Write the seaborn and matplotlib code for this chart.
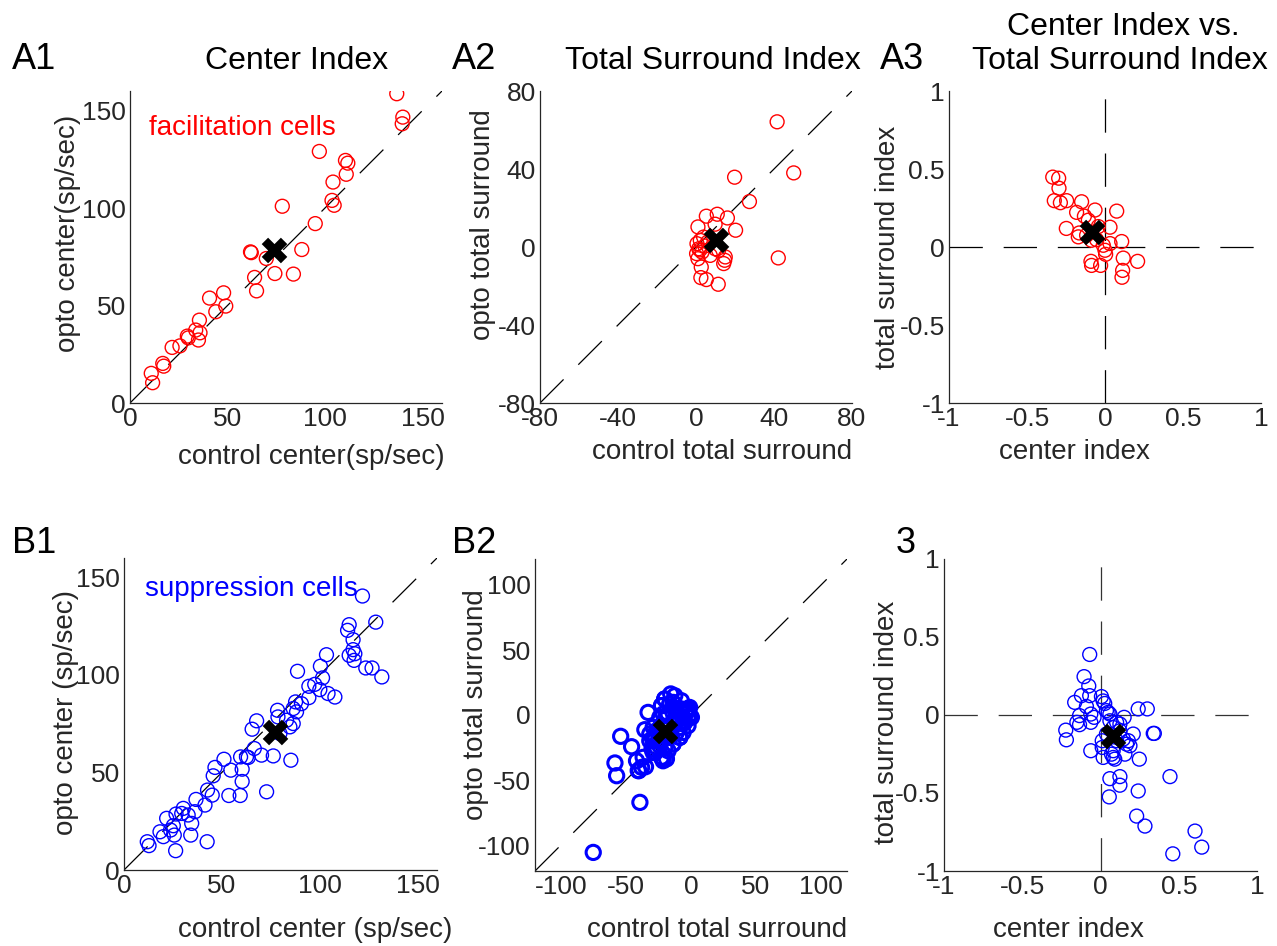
import numpy as np
import pandas as pd
import matplotlib
matplotlib.use("Agg")
import matplotlib.pyplot as plt
import seaborn as sns

# ---------------- data ----------------
# A1: center responses, facilitation cells
a1_control = [136.8, 139.9, 139.6, 97.1, 110.5, 111.7, 110.9, 104.1, 103.6, 104.7, 78.1, 95.0,
              88.1, 61.8, 62.2, 69.9, 74.3, 83.8, 63.9, 64.9, 40.8, 48.0, 49.1, 44.0, 35.6,
              33.7, 35.9, 29.4, 29.9, 35.1, 25.6, 21.6, 16.8, 17.3, 10.9, 11.6]
a1_opto = [158.6, 146.6, 143.2, 129.0, 124.4, 123.0, 117.3, 113.3, 103.9, 101.4, 100.9, 92.0,
           78.7, 77.5, 77.1, 74.1, 66.4, 66.1, 64.4, 57.5, 53.8, 56.5, 49.7, 46.8, 42.5,
           37.4, 36.0, 34.3, 33.4, 32.3, 29.3, 28.5, 20.3, 18.9, 15.2, 10.4]
a1_mean = [73.9, 78.7]

# A2: total surround, facilitation cells
a2_control = [41.6, 50.1, 19.8, 27.4, 5.3, 10.9, 16.1, 9.8, 1.0, 20.3, 42.2, 2.2, 0.5, 1.4,
              3.1, 0.3, 7.3, 3.9, 9.9, 15.0, 14.2, 14.7, 1.0, 2.7, 2.5, 5.3, 11.4, 11.6,
              6.0, 4.5, 2.0]
a2_opto = [64.2, 38.0, 35.8, 23.3, 15.8, 16.8, 14.9, 11.7, 10.3, 8.6, -5.6, 3.4, 1.7, -0.9,
           -2.6, -3.4, -4.3, 5.1, -0.9, -5.1, -8.5, -6.8, -6.0, -10.3, -15.7, -16.7, -19.1,
           -1.7, 2.5, 0.5, -1.5]
a2_mean = [10.4, 3.4]

# A3: center index vs total surround index, facilitation cells
a3_center = [-0.335, -0.297, -0.295, -0.325, -0.286, -0.246, -0.150, -0.064, 0.075, -0.182,
             -0.132, -0.107, -0.248, -0.165, -0.171, -0.118, -0.043, 0.032, -0.087, -0.054,
             -0.011, 0.032, 0.107, 0.000, 0.004, 0.117, 0.209, -0.090, -0.086, -0.028,
             0.113, 0.109]
a3_surround = [0.448, 0.441, 0.377, 0.297, 0.284, 0.297, 0.290, 0.237, 0.230, 0.222,
               0.198, 0.172, 0.119, 0.090, 0.065, 0.075, 0.131, 0.127, 0.043, 0.047,
               0.011, 0.022, 0.035, -0.021, -0.047, -0.071, -0.092, -0.092, -0.118, -0.118,
               -0.150, -0.194]
a3_mean = [-0.085, 0.097]

# B1: center responses, suppression cells
b1_control = [121.9, 128.7, 115.1, 114.3, 117.1, 117.1, 115.1, 118.0, 117.6, 123.6, 126.8,
              131.8, 103.5, 100.4, 88.7, 101.5, 97.5, 94.5, 100.1, 104.3, 107.8, 94.5, 87.7,
              90.7, 88.2, 86.5, 78.5, 78.7, 83.1, 86.5, 84.8, 79.7, 67.8, 65.5, 85.3, 76.3,
              70.3, 66.6, 63.5, 59.6, 62.6, 51.1, 60.4, 54.6, 46.5, 45.6, 60.4, 72.9, 53.6,
              59.4, 42.7, 45.1, 36.8, 41.4, 36.3, 30.3, 29.5, 32.8, 26.6, 34.6, 25.2, 21.8,
              23.8, 18.4, 20.1, 25.7, 34.1, 42.5, 26.4, 11.9, 12.8]
b1_opto = [140.5, 127.1, 125.8, 122.9, 118.1, 113.0, 110.1, 110.9, 107.5, 103.6, 103.6,
           99.0, 110.4, 104.5, 101.9, 98.5, 95.2, 94.2, 92.5, 90.5, 88.7, 88.4, 86.2,
           85.3, 81.1, 82.8, 81.9, 78.5, 76.8, 75.1, 73.4, 70.0, 76.5, 72.2, 56.3, 58.5,
           58.9, 62.3, 57.7, 58.0, 58.0, 56.8, 51.7, 51.2, 52.6, 48.3, 45.4, 40.1, 38.2,
           38.2, 41.0, 38.4, 36.2, 33.3, 29.9, 31.6, 29.0, 28.2, 28.7, 23.9, 22.7, 26.5,
           20.5, 19.6, 17.1, 17.9, 17.9, 14.5, 9.9, 14.5, 12.5]
b1_mean = [77.1, 70.8]

# B2: total surround, suppression cells
b2_control = [-75.2, -39.3, -58.5, -57.2, -54.1, -45.7, -41.9, -40.1, -36.8, -35.0, -33.0,
              -35.5, -31.7, -29.1, -30.0, -27.4, -22.7, -21.4, -18.9, -20.2, -26.5, -27.4,
              -22.7, -21.4, -22.7, -20.2, -15.6, -16.4, -11.2, -7.4, -3.5, -2.3, -4.8, -8.6,
              -12.4, -13.8, -8.6, -16.4, -17.6, -13.8, -10.0, -1.0, -2.3, -6.1, -11.2, -24.0,
              -25.3, -22.7, -20.2, -22.7, -13.8, -8.7, -3.5, -6.1, -11.2, -18.9, -2.3, -29.1,
              -31.7, -26.5, -29.1, -21.5, -13.8, -8.7, -6.1, -38.0, -40.6, -15.0, -17.6,
              -24.0, 0.3, -1.0, -7.4, -12.5]
b2_opto = [-105.7, -67.2, -36.9, -46.7, -16.4, -24.4, -35.2, -42.8, -32.6, -39.8, 2.0,
           -11.3, -14.6, -19.8, -26.2, -28.7, -32.6, -33.8, -33.8, -25.0, -12.1, -17.2,
           -8.2, 0.8, 7.2, 12.3, 16.2, 8.5, 3.3, 4.6, 3.3, -1.8, -5.7, -9.5, -4.4, -22.3,
           -17.2, -17.2, 0.8, 5.9, -1.8, -0.5, 4.6, -1.8, -13.4, -1.8, -19.8, -14.6, 12.3,
           7.2, 9.7, 4.6, 2.0, -4.4, -0.5, -0.5, -8.2, -9.5, -19.8, -24.9, -28.8, -35.2,
           -22.3, -17.2, -13.4, -40.3, -42.8, -15.9, -27.5, -23.6, -1.8, 5.8, 11.0, 14.8]
b2_mean = [-20.2, -12.6]

# B3: center index vs total surround index, suppression cells
b3_center = [-0.069, -0.105, -0.075, -0.122, -0.069, -0.165, -0.090, 0.006, 0.017, 0.038,
             0.060, 0.241, 0.299, -0.134, -0.151, -0.134, -0.062, -0.041, -0.222, -0.218,
             0.151, 0.209, 0.337, 0.344, 0.167, 0.156, -0.062, 0.011, 0.081, 0.081, 0.103,
             0.017, 0.248, 0.444, 0.124, 0.060, 0.124, 0.241, 0.056, 0.231, 0.284, 0.604,
             0.647, 0.462, 0.081, 0.124, 0.178, 0.188, 0.038, 0.124, 0.060, 0.103, 0.146,
             0.070, 0.091, 0.011, 0.049, 0.027, -0.062]
b3_surround = [0.388, 0.246, 0.186, 0.124, 0.124, 0.081, 0.055, 0.118, 0.090, 0.028, 0.006,
               0.039, 0.039, -0.004, -0.047, -0.062, -0.047, -0.015, -0.097, -0.159, -0.015,
               -0.122, -0.118, -0.118, -0.187, -0.251, -0.229, -0.208, -0.272, -0.229,
               -0.165, -0.272, -0.283, -0.395, -0.395, -0.408, -0.450, -0.487, -0.525,
               -0.648, -0.712, -0.744, -0.847, -0.890, -0.080, -0.101, -0.165, -0.197,
               -0.122, -0.058, -0.037, -0.047, -0.154, -0.251, -0.283, -0.165, 0.017,
               0.074, 0.006]
b3_mean = [0.077, -0.133]

ticks_rate = [0, 50, 100, 150]
ticks_a2 = [-80, -40, 0, 40, 80]
ticks_b2 = [-100, -50, 0, 50, 100]
ticks_idx = [-1, -0.5, 0, 0.5, 1]
tick_idx_labels = ["-1", "-0.5", "0", "0.5", "1"]

# ---------------- style ----------------
sns.set_style("white")
plt.rcParams['font.family'] = ['Liberation Sans', 'DejaVu Sans']
plt.rcParams['lines.scale_dashes'] = False
plt.rcParams['axes.unicode_minus'] = False

W, H = 1277, 946
fig = plt.figure(figsize=(W / 100, H / 100), dpi=100)
fig.patch.set_facecolor("white")

TXT = "#262626"


def make_ax(left, top, right, bottom):
    return fig.add_axes([left / W, 1 - bottom / H, (right - left) / W, (bottom - top) / H])


def style(ax, lim, ticks, labels=None):
    ax.set_xlim(lim)
    ax.set_ylim(lim)
    ax.set_xticks(ticks)
    ax.set_yticks(ticks)
    if labels is not None:
        ax.set_xticklabels(labels)
        ax.set_yticklabels(labels)
    for s in ["top", "right"]:
        ax.spines[s].set_visible(False)
    for s in ["left", "bottom"]:
        ax.spines[s].set_color(TXT)
        ax.spines[s].set_linewidth(0.9)
    ax.tick_params(direction="in", length=5, width=0.8, colors=TXT, labelsize=19, pad=3)
    ax.grid(False)
    ax.set_facecolor("white")


def set_labels(ax, box, xl, yl, xpos, ypos):
    left, top, right, bottom = box
    ax.set_xlabel(xl, fontsize=20, color=TXT)
    ax.set_ylabel(yl, fontsize=20, color=TXT)
    ax.xaxis.set_label_coords((xpos[0] - left) / (right - left), (bottom - xpos[1]) / (bottom - top))
    ax.yaxis.set_label_coords((ypos[0] - left) / (right - left), (bottom - ypos[1]) / (bottom - top))
    ax.xaxis.label.set_va("center")
    ax.yaxis.label.set_va("center")
    ax.yaxis.label.set_ha("center")


DASH = (0, (24, 15))


def scatter(ax, xs, ys, mean, color, lw, s=100):
    df = pd.DataFrame({"x": xs, "y": ys})
    sns.scatterplot(data=df, x="x", y="y", ax=ax, marker="o", s=s,
                    facecolors="none", edgecolor=color, linewidth=lw, zorder=3)
    dm = pd.DataFrame({"x": [mean[0]], "y": [mean[1]]})
    sns.scatterplot(data=dm, x="x", y="y", ax=ax, marker="X", s=340,
                    color="black", edgecolor="black", linewidth=0, zorder=5)


# ---------- A1 ----------
boxA1 = (130, 91, 442, 403)
ax = make_ax(*boxA1)
ax.axline((0, 0), slope=1, color="black", lw=0.9, linestyle=DASH, zorder=2)
scatter(ax, a1_control, a1_opto, a1_mean, "#ff0000", 1.0)
style(ax, (0, 160), ticks_rate)
ax.text(9.7, 140.8, "facilitation cells", color="#ff0000", fontsize=20, ha="left", va="center")
set_labels(ax, boxA1, "control center(sp/sec)", "opto center(sp/sec)", (311, 457), (68, 233))

# ---------- A2 ----------
boxA2 = (540, 91, 852, 403)
ax = make_ax(*boxA2)
ax.axline((0, 0), slope=1, color="black", lw=0.9, linestyle=DASH, zorder=2)
scatter(ax, a2_control, a2_opto, a2_mean, "#ff0000", 1.0)
style(ax, (-80, 80), ticks_a2)
set_labels(ax, boxA2, "control total surround", "opto total surround", (722, 452), (483, 225))

# ---------- A3 ----------
boxA3 = (949, 91, 1261, 403)
ax = make_ax(*boxA3)
ax.axhline(0, color="black", lw=0.9, linestyle=DASH, zorder=2)
ax.axvline(0, color="black", lw=0.9, linestyle=DASH, zorder=2)
scatter(ax, a3_center, a3_surround, a3_mean, "#ff0000", 1.0)
style(ax, (-1, 1), ticks_idx, tick_idx_labels)
set_labels(ax, boxA3, "center index", "total surround index", (1074, 452), (888, 247))

# ---------- B1 ----------
boxB1 = (124, 558, 437, 870)
ax = make_ax(*boxB1)
ax.axline((0, 0), slope=1, color="black", lw=0.9, linestyle=DASH, zorder=2)
scatter(ax, b1_control, b1_opto, b1_mean, "#0000ff", 1.0)
style(ax, (0, 160), ticks_rate)
ax.text(10.7, 143.9, "suppression cells", color="#0000ff", fontsize=20, ha="left", va="center")
set_labels(ax, boxB1, "control center (sp/sec)", "opto center (sp/sec)", (315, 930), (66, 712))

# ---------- B2 ----------
boxB2 = (535, 559, 847, 871)
ax = make_ax(*boxB2)
ax.axline((0, 0), slope=1, color="black", lw=0.9, linestyle=DASH, zorder=2)
scatter(ax, b2_control, b2_opto, b2_mean, "#0000ff", 2.2, s=105)
style(ax, (-120, 120), ticks_b2)
set_labels(ax, boxB2, "control total surround", "opto total surround", (717, 930), (476, 705))

# ---------- B3 ----------
boxB3 = (944, 559, 1257, 871)
ax = make_ax(*boxB3)
ax.axhline(0, color="#333333", lw=0.9, linestyle=DASH, zorder=2)
ax.axvline(0, color="#333333", lw=0.9, linestyle=DASH, zorder=2)
scatter(ax, b3_center, b3_surround, b3_mean, "#0000ff", 1.0)
style(ax, (-1, 1), ticks_idx, tick_idx_labels)
set_labels(ax, boxB3, "center index", "total surround index", (1068, 930), (887, 722))

# ---------- panel labels and titles ----------
def ftext(x, y, s, size, ha="left"):
    fig.text(x / W, 1 - y / H, s, fontsize=size, ha=ha, va="baseline", color="black")

ftext(12, 69, "A1", 26)
ftext(452, 69, "A2", 26)
ftext(880, 69, "A3", 26)
ftext(12, 553, "B1", 26)
ftext(452, 553, "B2", 26)
ftext(896, 553, "3", 26)
ftext(297, 69, "Center Index", 23, ha="center")
ftext(713, 69, "Total Surround Index", 23, ha="center")
ftext(1123, 35, "Center Index vs.", 23, ha="center")
ftext(1120, 69, "Total Surround Index", 23, ha="center")

fig.savefig("out.png", dpi=100, facecolor="white")
